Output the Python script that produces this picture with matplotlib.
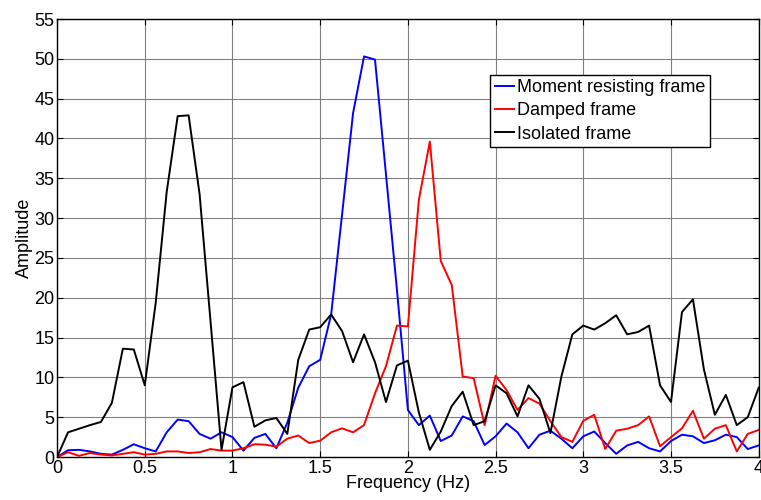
import numpy as np
import matplotlib
matplotlib.use("Agg")
import matplotlib.pyplot as plt

plt.rcParams['font.family'] = ['Liberation Sans', 'DejaVu Sans']

# frequency bins, 0 to 4 Hz in steps of 1/16 Hz
freq = np.linspace(0, 4, 65)

moment_frame = [0, 0.85, 0.9, 0.7, 0.4, 0.3, 0.9, 1.6, 1.1, 0.7,
                3.1, 4.7, 4.5, 2.9, 2.3, 3.1, 2.5, 0.8, 2.4, 2.9,
                1.1, 4.3, 8.7, 11.4, 12.2, 17.9, 30.5, 43.2, 50.3, 49.9,
                35.5, 21.0, 5.9, 4.0, 5.2, 2.0, 2.7, 5.1, 4.5, 1.5,
                2.6, 4.2, 3.1, 1.1, 2.8, 3.3, 2.3, 1.1, 2.6, 3.2,
                1.75, 0.4, 1.45, 1.9, 1.1, 0.7, 2.0, 2.8, 2.6, 1.75,
                2.1, 2.8, 2.5, 1.0, 1.45]

damped_frame = [0, 0.6, 0.15, 0.5, 0.3, 0.2, 0.4, 0.6, 0.3, 0.4,
                0.7, 0.7, 0.5, 0.6, 1.0, 0.8, 0.8, 1.1, 1.6, 1.55,
                1.3, 2.3, 2.7, 1.75, 2.05, 3.1, 3.6, 3.1, 4.0, 8.0,
                11.4, 16.5, 16.4, 32.3, 39.6, 24.6, 21.6, 10.1, 9.9, 4.0,
                10.2, 8.4, 5.9, 7.4, 6.7, 4.5, 2.5, 1.9, 4.55, 5.3,
                1.0, 3.3, 3.55, 4.0, 5.1, 1.35, 2.5, 3.6, 5.8, 2.3,
                3.55, 4.0, 0.7, 2.9, 3.4]

isolated_frame = [0, 3.1, 3.55, 4.0, 4.4, 6.8, 13.6, 13.5, 9.0, 19.4,
                  33.3, 42.8, 42.9, 33.0, 17.0, 0.9, 8.75, 9.4, 3.8, 4.6,
                  4.9, 2.9, 12.2, 16.0, 16.3, 17.9, 15.8, 11.9, 15.4, 11.9,
                  6.9, 11.5, 12.1, 5.6, 0.9, 3.2, 6.4, 8.2, 4.0, 4.5,
                  9.0, 8.0, 5.1, 9.0, 7.3, 3.0, 10.1, 15.4, 16.5, 16.0,
                  16.8, 17.8, 15.4, 15.7, 16.5, 9.0, 6.9, 18.2, 19.8, 11.0,
                  5.3, 7.8, 4.0, 5.0, 8.7]

fig = plt.figure(figsize=(7.61, 5.0), dpi=100)
ax = fig.add_axes([0.075, 0.086, 0.922, 0.876])

ax.plot(freq, moment_frame, color="#0000ff", lw=1.4, label="Moment resisting frame")
ax.plot(freq, damped_frame, color="#ff0000", lw=1.4, label="Damped frame")
ax.plot(freq, isolated_frame, color="black", lw=1.4, label="Isolated frame")

ax.set_xlim(0, 4)
ax.set_ylim(0, 55)
ax.set_xticks(np.arange(0, 4.01, 0.5))
ax.set_xticklabels(["0", "0.5", "1", "1.5", "2", "2.5", "3", "3.5", "4"])
ax.set_yticks(np.arange(0, 56, 5))

ax.grid(True, color="#808080", lw=0.8, ls="-")
ax.set_axisbelow(True)
ax.tick_params(direction="in", top=True, right=True, length=4, labelsize=13, pad=2)
for s in ax.spines.values():
    s.set_linewidth(1.0)
    s.set_color("black")

ax.set_xlabel("Frequency (Hz)", fontsize=13, labelpad=-1)
ax.set_ylabel("Amplitude", fontsize=13, labelpad=1)

leg = ax.legend(loc="upper left", bbox_to_anchor=(0.617, 0.873), fontsize=13,
                frameon=True, fancybox=False, framealpha=1, edgecolor="black",
                handlelength=1.1, handletextpad=0.15, borderpad=0.25,
                labelspacing=0.35, borderaxespad=0)
leg.get_frame().set_linewidth(1.0)

plt.savefig("out.png", dpi=100)
